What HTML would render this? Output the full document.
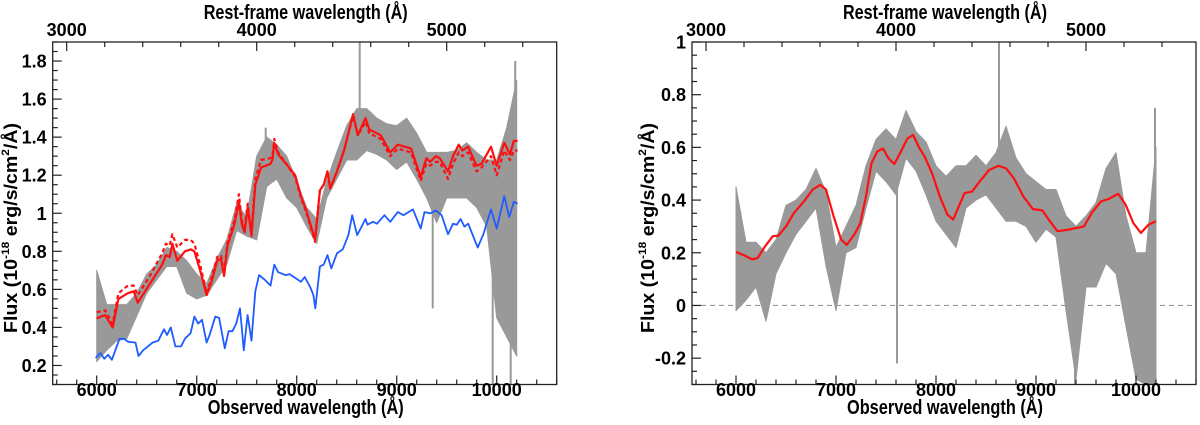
<!DOCTYPE html>
<html><head><meta charset="utf-8"><style>
html,body{margin:0;padding:0;background:#fff;}
svg{display:block;font-family:"Liberation Sans",Arial,sans-serif;font-weight:bold;}
</style></head><body>
<svg id="fig" width="1200" height="425" viewBox="0 0 1200 425" xmlns="http://www.w3.org/2000/svg"></svg>
<script>
// ---------- LEFT PANEL DATA ----------
const redWave = [6000,6085,6160,6217,6312,6370,6410,6520,6655,6692,6730,6757,6806,6882,6940,6977,7034,7100,7148,7205,7243,7274,7308,7376,7422,7452,7479,7510,7548,7586,7643,7738,7757,7776,7814,7909,7985,8042,8099,8183,8232,8270,8308,8335,8403,8479,8563,8612,8688,8726,8840,8935,9011,9144,9240,9297,9335,9392,9430,9513,9563,9620,9658,9715,9798,9848,9943,10000,10076,10133,10171,10209];
const redFlux = [0.448,0.465,0.40,0.55,0.58,0.59,0.53,0.62,0.73,0.78,0.77,0.84,0.75,0.80,0.81,0.80,0.70,0.57,0.64,0.75,0.76,0.67,0.83,0.94,1.06,0.94,0.90,1.03,0.88,1.15,1.24,1.26,1.28,1.37,1.31,1.25,1.20,1.09,1.01,0.86,1.12,1.15,1.22,1.13,1.22,1.34,1.52,1.41,1.50,1.44,1.41,1.32,1.36,1.34,1.19,1.29,1.27,1.30,1.29,1.22,1.30,1.36,1.33,1.35,1.25,1.26,1.35,1.25,1.37,1.31,1.38,1.38];
const dashFlux = [0.48,0.49,0.42,0.58,0.62,0.62,0.57,0.66,0.79,0.84,0.83,0.89,0.82,0.86,0.86,0.84,0.73,0.58,0.66,0.77,0.78,0.68,0.85,0.96,1.10,0.96,0.93,1.05,0.90,1.18,1.28,1.29,1.30,1.39,1.32,1.25,1.19,1.08,1.00,0.85,1.12,1.15,1.22,1.13,1.22,1.34,1.51,1.41,1.48,1.42,1.39,1.30,1.34,1.32,1.17,1.26,1.25,1.27,1.27,1.18,1.26,1.32,1.30,1.32,1.22,1.24,1.30,1.20,1.33,1.28,1.33,1.33];
const blueWave = [5989,6038,6076,6114,6152,6228,6274,6312,6388,6418,6464,6559,6616,6673,6703,6741,6787,6844,6882,6939,6977,7015,7053,7099,7129,7186,7224,7281,7319,7357,7395,7433,7471,7509,7548,7586,7624,7681,7738,7776,7814,7890,7928,7985,8042,8080,8137,8167,8186,8232,8270,8308,8346,8403,8460,8517,8555,8605,8688,8707,8764,8802,8878,8935,9011,9068,9163,9240,9278,9335,9392,9449,9513,9563,9601,9639,9677,9715,9810,9867,9943,10000,10076,10125,10171,10209];
const blueFlux = [0.24,0.265,0.235,0.256,0.23,0.34,0.34,0.325,0.32,0.25,0.28,0.32,0.33,0.39,0.36,0.40,0.30,0.30,0.34,0.37,0.457,0.42,0.44,0.32,0.36,0.457,0.45,0.29,0.38,0.38,0.42,0.50,0.28,0.465,0.33,0.59,0.675,0.65,0.62,0.73,0.69,0.675,0.68,0.66,0.64,0.665,0.61,0.57,0.50,0.72,0.73,0.78,0.71,0.79,0.81,0.885,0.99,0.885,0.97,0.94,0.955,0.945,0.99,0.955,1.006,0.99,1.02,0.92,1.006,1.0,1.015,0.99,0.89,0.945,0.94,0.97,0.93,0.945,0.82,0.89,1.02,0.92,1.09,0.98,1.06,1.05];
const grayWave = [6000,6100,6200,6300,6400,6500,6600,6700,6800,6900,7000,7100,7200,7300,7400,7500,7600,7700,7800,7900,8000,8100,8200,8300,8400,8500,8600,8700,8800,8900,9000,9100,9200,9300,9400,9500,9600,9700,9800,9900,10000,10100,10200];
const grayHiL = [0.70,0.52,0.52,0.52,0.58,0.68,0.73,0.82,0.80,0.75,0.68,0.63,0.76,0.86,1.05,0.98,1.30,1.40,1.36,1.30,1.17,1.03,0.97,1.17,1.32,1.46,1.55,1.55,1.50,1.47,1.46,1.50,1.42,1.32,1.32,1.32,1.33,1.37,1.32,1.28,1.28,1.45,1.70];
const grayLoL = [0.22,0.28,0.33,0.34,0.46,0.58,0.65,0.72,0.72,0.58,0.55,0.57,0.65,0.73,0.91,0.88,0.86,1.14,1.18,1.08,1.03,0.93,0.84,1.08,1.18,1.28,1.28,1.33,1.31,1.28,1.23,1.27,1.18,1.08,0.95,1.08,1.08,1.08,1.03,0.93,0.45,0.35,0.25];
const spikeWaveL = [7690,8630,9360,9960,10140,10185];
const spikeFluxL = [1.45,1.92,0.50,0.10,0.10,1.80];
// ---------- RIGHT PANEL DATA ----------
const smoothWave = [6000,6083,6160,6216,6292,6368,6425,6500,6577,6690,6767,6843,6900,6975,7051,7108,7184,7241,7298,7355,7412,7469,7526,7583,7640,7715,7772,7830,7886,7962,8038,8114,8171,8228,8285,8361,8436,8531,8626,8702,8778,8873,8968,9063,9139,9214,9328,9480,9556,9650,9726,9821,9897,9973,10049,10125,10200];
const smoothFlux = [0.203,0.19,0.175,0.18,0.225,0.263,0.265,0.30,0.35,0.40,0.44,0.458,0.44,0.34,0.25,0.23,0.27,0.31,0.41,0.54,0.584,0.596,0.558,0.537,0.577,0.634,0.647,0.60,0.565,0.50,0.414,0.345,0.326,0.376,0.426,0.433,0.47,0.514,0.53,0.52,0.483,0.414,0.366,0.361,0.32,0.282,0.288,0.30,0.351,0.395,0.404,0.424,0.382,0.313,0.275,0.307,0.32];
const grayHiR = [0.45,0.24,0.24,0.20,0.25,0.38,0.40,0.44,0.52,0.43,0.22,0.30,0.38,0.53,0.63,0.67,0.63,0.74,0.66,0.62,0.53,0.49,0.53,0.53,0.57,0.53,0.58,0.68,0.56,0.50,0.47,0.44,0.44,0.34,0.30,0.34,0.39,0.52,0.58,0.34,0.20,0.20,0.60];
const grayLoR = [-0.02,0.02,0.07,-0.06,0.12,0.20,0.27,0.32,0.37,0.15,-0.02,0.20,0.22,0.37,0.51,0.47,0.42,0.56,0.51,0.42,0.32,0.27,0.22,0.37,0.40,0.42,0.37,0.32,0.32,0.30,0.24,0.29,0.26,-0.02,-0.28,0.07,0.07,0.16,0.12,-0.08,-0.28,-0.30,-0.30];
const spikeWaveR = [7610,8630,9390,10190];
const spikeFluxR = [-0.22,1.00,-0.30,0.75];
const obsTicks = [6000,7000,8000,9000,10000];
const restTicks = [3000,4000,5000];
const yTicksL = ["0.2","0.4","0.6","0.8","1","1.2","1.4","1.6","1.8"];
const yTicksR = ["-0.2","0","0.2","0.4","0.6","0.8","1"];
const zfac = 1.9;

const NS = "http://www.w3.org/2000/svg";
const svg = document.getElementById("fig");
function mk(tag, attrs, parent){ const e=document.createElementNS(NS,tag); for(const k in attrs) e.setAttribute(k,attrs[k]); (parent||svg).appendChild(e); return e; }

function panel(cfg){
  const g = mk("g",{});
  
  
  const X = w => cfg.x0 + (w - 6000) * 0.1;
  const Y = f => cfg.top + (cfg.ymax - f) / (cfg.ymax - cfg.ymin) * (cfg.bot - cfg.top);
  const left = X(5560), right = X(10600);
  const cid = cfg.name + "-clip";
  const defs = mk("defs",{},g);
  const cp = mk("clipPath",{id:cid},defs);
  mk("rect",{x:left,y:cfg.top,width:right-left,height:cfg.bot-cfg.top},cp);
  const plot = mk("g",{"clip-path":"url(#"+cid+")"},g);
  if (cfg.zero) {
    const z = mk("line",{x1:left,x2:right,y1:Y(0),y2:Y(0),stroke:"#999","stroke-width":1.2,"stroke-dasharray":"5,4"},plot);
    
    
  }
  let pts = [];
  cfg.gw.forEach((w,i)=>pts.push(X(w).toFixed(1)+","+Y(cfg.ghi[i]).toFixed(1)));
  for(let i=cfg.gw.length-1;i>=0;i--) pts.push(X(cfg.gw[i]).toFixed(1)+","+Y(cfg.glo[i]).toFixed(1));
  const band = mk("polygon",{points:pts.join(" "),fill:"#999",stroke:"#999","stroke-width":1,"stroke-linejoin":"round"},plot);
  
  
  cfg.sw.forEach((w,i)=>{
    const k = cfg.gw.reduce((a,b,j)=>Math.abs(b-w)<Math.abs(cfg.gw[a]-w)?j:a,0);
    const base = (cfg.ghi[k]+cfg.glo[k])/2;
    const s = mk("line",{x1:X(w),x2:X(w),y1:Y(base),y2:Y(cfg.sf[i]),stroke:"#999","stroke-width":2},plot);
    
    
  });
  cfg.lines.forEach(L=>{
    const p = mk("polyline",{points:L.w.map((w,i)=>X(w).toFixed(1)+","+Y(L.f[i]).toFixed(1)).join(" "),fill:"none",stroke:L.c,"stroke-width":L.sw,"stroke-linejoin":"round","stroke-dasharray":L.dash||"none"},plot);
    
    
  });
  const fr = mk("rect",{x:left,y:cfg.top,width:right-left,height:cfg.bot-cfg.top,fill:"none",stroke:"#222","stroke-width":1.3},g);
  
  
  for(let w=5600; w<=10600; w+=200){
    const maj = w%1000===0, x=X(w);
    mk("line",{x1:x,x2:x,y1:cfg.bot,y2:cfg.bot-(maj?9:5),stroke:"#222","stroke-width":1.2},g);
  }
  obsTicks.forEach(w=>{
    const t = mk("text",{x:X(w),y:396,"text-anchor":"middle","font-size":18},g); t.textContent=w;
    
    
  });
  for(let r=3000; r<=5600; r+=200){
    const x = X(r*zfac); if(x<left||x>right) continue;
    const maj = r%1000===0;
    mk("line",{x1:x,x2:x,y1:cfg.top,y2:cfg.top+(maj?9:5),stroke:"#222","stroke-width":1.2},g);
  }
  restTicks.forEach(r=>{
    const t = mk("text",{x:X(r*zfac),y:36,"text-anchor":"middle","font-size":18},g); t.textContent=r;
    
    
  });
  for(let k=Math.ceil(cfg.ymin/0.05-1e-6); k*0.05<=cfg.ymax+1e-6; k++){
    const f=k*0.05, maj=(k%4===0), y=Y(f);
    mk("line",{x1:left,x2:left+(maj?9:5),y1:y,y2:y,stroke:"#222","stroke-width":1.2},g);
  }
  cfg.yt.forEach(s=>{
    const t = mk("text",{x:left-6,y:Y(parseFloat(s))+6.5,"text-anchor":"end","font-size":18},g); t.textContent=s;
    
    
  });
  const cx = (left+right)/2;
  const xt = mk("text",{x:cx+1,y:414,"text-anchor":"middle","font-size":20,textLength:196,lengthAdjust:"spacingAndGlyphs"},g);
  xt.textContent = "Observed wavelength (Å)";
  
  
  const tt = mk("text",{x:cx+1,y:19,"text-anchor":"middle","font-size":20,textLength:204,lengthAdjust:"spacingAndGlyphs"},g);
  tt.textContent = "Rest-frame wavelength (Å)";
  
  
  const yx = cfg.ytx, yy = 228;
  const yt = mk("text",{x:yx,y:yy,"text-anchor":"middle","font-size":18,textLength:210,lengthAdjust:"spacingAndGlyphs",transform:"rotate(-90 "+yx+" "+yy+")"},g);
  yt.innerHTML = 'Flux (10<tspan dy="-8" font-size="11">-18</tspan><tspan dy="8"> erg/s/cm</tspan><tspan dy="-8" font-size="11">2</tspan><tspan dy="8">/Å)</tspan>';
  
  
}

panel({name:"left-panel",x0:96.7,top:42,bot:384.5,ymin:0.1,ymax:1.9,yt:yTicksL,ytx:17,
  gw:grayWave,ghi:grayHiL,glo:grayLoL,sw:spikeWaveL,sf:spikeFluxL,
  lines:[{name:"model-dashed-red",w:redWave,f:dashFlux,c:"#ff1010",sw:2.2,dash:"4,3"},
         {name:"model-red",w:redWave,f:redFlux,c:"#ff1010",sw:2.2},
         {name:"model-blue",w:blueWave,f:blueFlux,c:"#1f5cff",sw:1.8}]});
panel({name:"right-panel",x0:736,top:42,bot:384.5,ymin:-0.3,ymax:1.0,yt:yTicksR,ytx:654,zero:true,
  gw:grayWave,ghi:grayHiR,glo:grayLoR,sw:spikeWaveR,sf:spikeFluxR,
  lines:[{name:"smoothed-red",w:smoothWave,f:smoothFlux,c:"#ff1010",sw:2.2}]});
</script>
</body></html>
